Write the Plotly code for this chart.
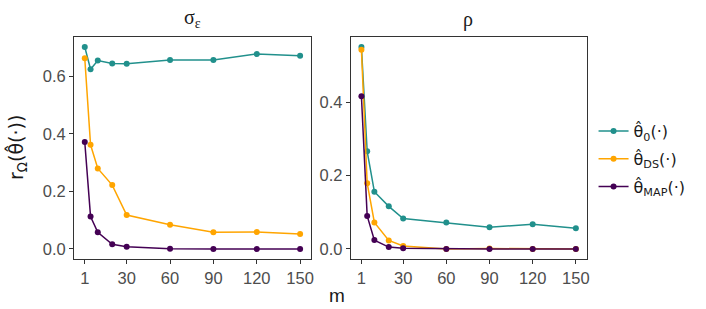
import plotly.graph_objects as go
from plotly.subplots import make_subplots

m_values = [1, 5, 10, 20, 30, 60, 90, 120, 150]

sigma_theta0 = [0.702, 0.625, 0.655, 0.645, 0.644, 0.657, 0.657, 0.678, 0.672]
sigma_thetaDS = [0.663, 0.362, 0.280, 0.222, 0.118, 0.084, 0.058, 0.059, 0.052]
sigma_thetaMAP = [0.372, 0.113, 0.058, 0.016, 0.008, 0.001, 0.0, 0.0, 0.0]

rho_theta0 = [0.550, 0.266, 0.156, 0.116, 0.083, 0.072, 0.059, 0.067, 0.056]
rho_thetaDS = [0.543, 0.179, 0.072, 0.023, 0.008, 0.0, 0.001, 0.0, 0.0]
rho_thetaMAP = [0.416, 0.090, 0.024, 0.005, 0.002, 0.0, 0.0, 0.0, 0.0]

series_names = ["θ̂<sub>0</sub>(·)", "θ̂<sub>DS</sub>(·)", "θ̂<sub>MAP</sub>(·)"]
colors = ["#21908C", "#FFA500", "#440154"]
panel_titles = ["σ<sub>ε</sub>", "ρ"]
x_ticks = [1, 30, 60, 90, 120, 150]

fig = make_subplots(rows=1, cols=2)

panels = [
    [sigma_theta0, sigma_thetaDS, sigma_thetaMAP],
    [rho_theta0, rho_thetaDS, rho_thetaMAP],
]

for col, data in enumerate(panels, start=1):
    for vals, name, c in zip(data, series_names, colors):
        fig.add_trace(
            go.Scatter(
                x=m_values, y=vals, mode="lines+markers", name=name,
                line=dict(color=c, width=1.5),
                marker=dict(color=c, size=6),
                showlegend=(col == 1), legendgroup=name,
            ),
            row=1, col=col,
        )

axis_common = dict(
    showgrid=False, zeroline=False, showline=True, mirror=True,
    linecolor="#333333", linewidth=1, ticks="outside", tickcolor="#333333",
    ticklen=4, tickfont=dict(family="Liberation Sans, Arial", size=16.5, color="#4d4d4d"),
)

fig.update_xaxes(**axis_common, tickvals=x_ticks, range=[-6.45, 157.45])
fig.update_xaxes(domain=[0, 0.3766], row=1, col=1)
fig.update_xaxes(domain=[0.4399, 0.8149], row=1, col=2)
fig.update_yaxes(**axis_common)
fig.update_yaxes(range=[-0.035, 0.737], tickvals=[0, 0.2, 0.4, 0.6],
                 ticktext=["0.0", "0.2", "0.4", "0.6"], row=1, col=1)
fig.update_yaxes(range=[-0.0275, 0.5775], tickvals=[0, 0.2, 0.4],
                 ticktext=["0.0", "0.2", "0.4"], row=1, col=2)

ann_font = dict(color="#1a1a1a")
fig.add_annotation(text=panel_titles[0], x=0.188, y=1.0, xref="paper", yref="paper",
                   xanchor="center", yanchor="bottom", yshift=4, showarrow=False,
                   font=dict(size=20, family="Liberation Serif, serif", **ann_font))
fig.add_annotation(text=panel_titles[1], x=0.627, y=1.0, xref="paper", yref="paper",
                   xanchor="center", yanchor="bottom", yshift=4, showarrow=False,
                   font=dict(size=20, family="Liberation Serif, serif", **ann_font))
fig.add_annotation(text="m", x=0.418, y=0, xref="paper", yref="paper",
                   xanchor="center", yanchor="top", yshift=-24, showarrow=False,
                   font=dict(size=19, family="Liberation Sans, Arial", **ann_font))
fig.add_annotation(text="r<sub>Ω</sub>(θ̂(·))", x=0, y=0.5, xref="paper", yref="paper",
                   xanchor="right", yanchor="middle", xshift=-42, textangle=-90,
                   showarrow=False, font=dict(size=19, family="DejaVu Sans", **ann_font))

fig.update_layout(
    width=706, height=309,
    margin=dict(l=74, r=0, t=37, b=50),
    plot_bgcolor="white", paper_bgcolor="white",
    legend=dict(x=0.826, y=0.45, xanchor="left", yanchor="middle",
                font=dict(family="DejaVu Sans", size=16, color="#1a1a1a"),
                bgcolor="rgba(0,0,0,0)", tracegroupgap=4),
)

fig.write_html("out.html", config={"displayModeBar": False},
               post_script="document.body.style.margin='0';")
